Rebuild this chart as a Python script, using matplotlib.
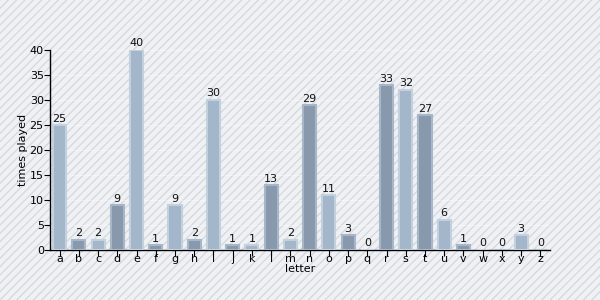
import matplotlib.pyplot as plt
from matplotlib.patches import Rectangle

letters = list("abcdefghijklmnopqrstuvwxyz")
counts = [25, 2, 2, 9, 40, 1, 9, 2, 30, 1, 1, 13, 2, 29, 11, 3, 0, 33, 32, 27, 6, 1, 0, 0, 3, 0]
yticks = [0, 5, 10, 15, 20, 25, 30, 35, 40]

light_fill, light_edge = '#a3b6ca', '#c3d0de'
dark_fill, dark_edge = '#8899ae', '#a8b7c8'

plt.rcParams['hatch.color'] = '#d3d8de'
plt.rcParams['hatch.linewidth'] = 0.9

fig = plt.figure(figsize=(6, 3), dpi=100)
fig.patch.set_facecolor('#eff1f4')
# striped background
bg = Rectangle((0, 0), 1, 1, transform=fig.transFigure, facecolor='#eff1f4',
               edgecolor='#d3d8de', hatch='////', linewidth=0, zorder=-10)
fig.patches.append(bg)

ax = fig.add_axes([50 / 600, 50 / 300, 500 / 600, 200 / 300])
ax.patch.set_visible(False)

x = range(len(letters))
fills = [light_fill if i % 2 == 0 else dark_fill for i in x]
edges = [light_edge if i % 2 == 0 else dark_edge for i in x]
bars = ax.bar(x, counts, width=0.68, color=fills, edgecolor=edges, linewidth=1.5, zorder=3)

for i, v in enumerate(counts):
    ax.text(i, v + 0.3, str(v), ha='center', va='bottom', fontsize=8, color='#111111',
            clip_on=False, zorder=4)

ax.set_xlim(-0.5, 25.5)
ax.set_ylim(0, 40)
ax.set_xticks(list(x))
ax.set_xticklabels(letters, fontsize=8)
ax.set_yticks(yticks)
ax.set_yticklabels([str(t) for t in yticks], fontsize=8)
ax.tick_params(axis='x', length=4, pad=-1, width=0.8)
ax.tick_params(axis='y', length=4, pad=0.5, width=0.8)

ax.grid(axis='y', color='white', linewidth=0.8, alpha=0.35, zorder=1)
ax.set_axisbelow(True)

for s in ['top', 'right']:
    ax.spines[s].set_visible(False)
ax.spines['left'].set_linewidth(1)
ax.spines['bottom'].set_linewidth(1)

ax.set_xlabel('letter', fontsize=8, labelpad=0)
ax.set_ylabel('times played', fontsize=8, labelpad=1)

plt.savefig('out.png', dpi=100, facecolor=fig.get_facecolor())
